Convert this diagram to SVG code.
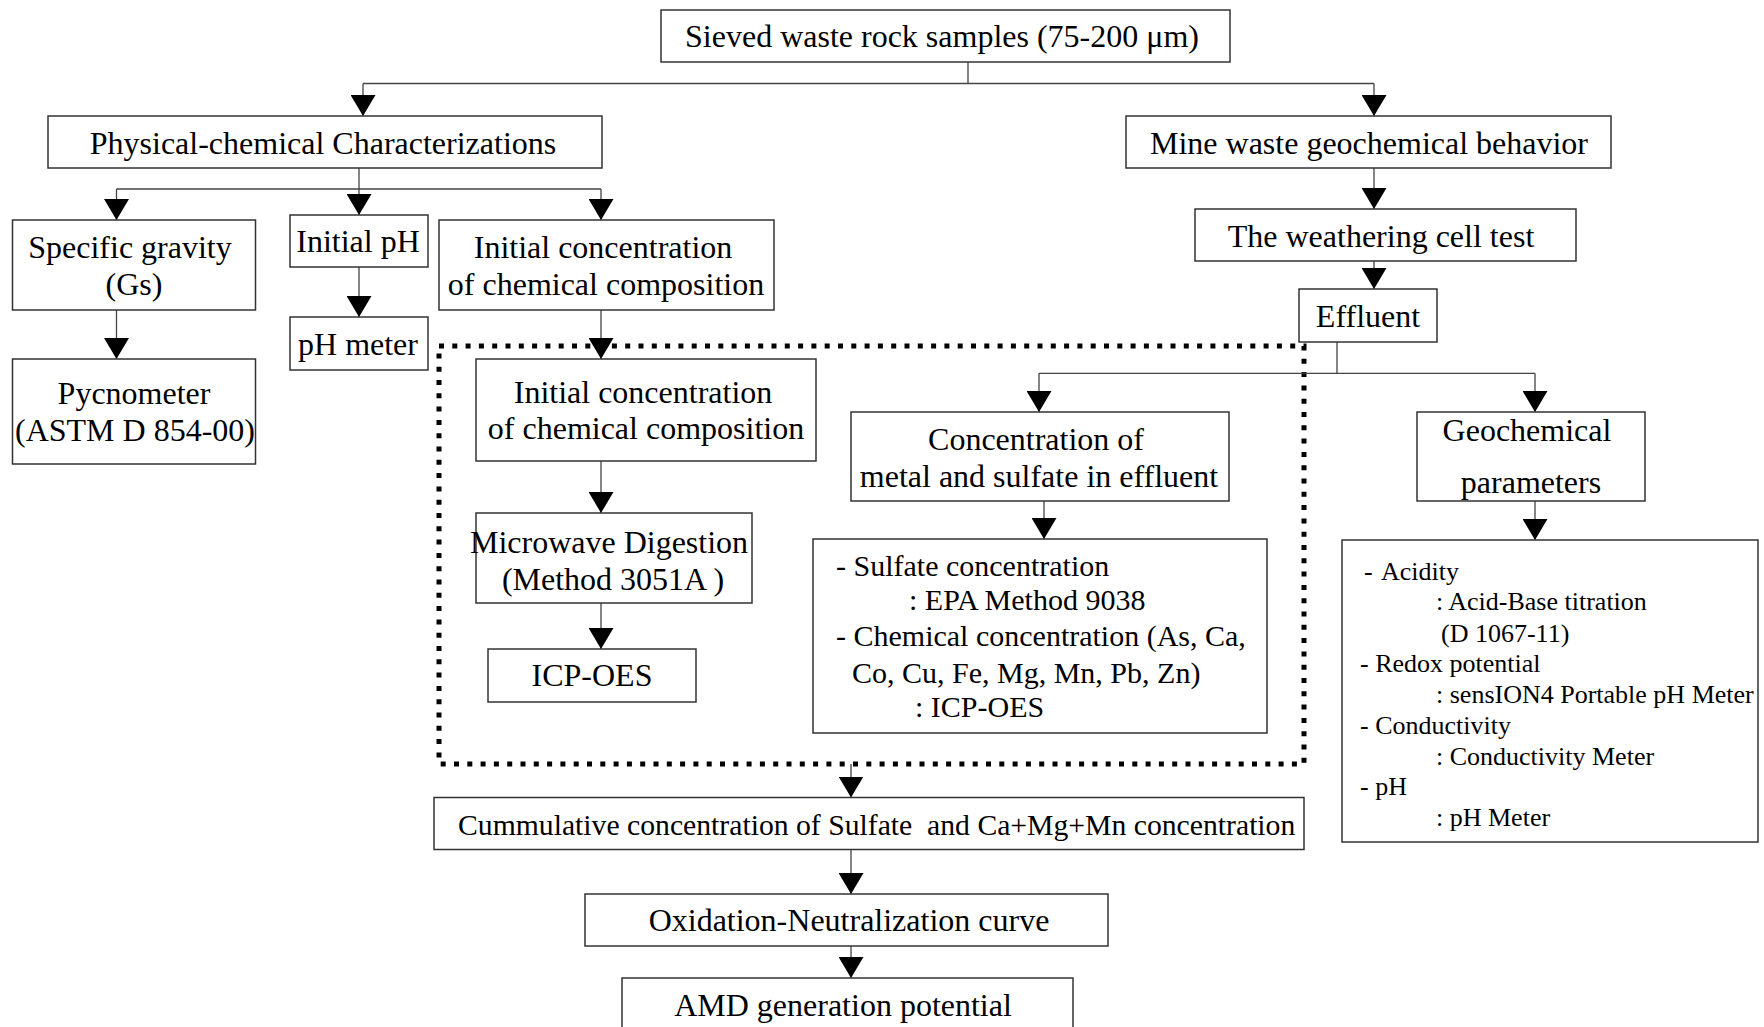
<svg xmlns="http://www.w3.org/2000/svg" width="1764" height="1027" viewBox="0 0 1764 1027">
<defs>
<style>
.box{fill:#fff;stroke:#333;stroke-width:1.5}
.t{font-family:"Liberation Serif","Times New Roman",serif;font-size:32px;fill:#000;text-anchor:middle}
.s{font-family:"Liberation Serif","Times New Roman",serif;font-size:30px;fill:#000}
.p{font-family:"Liberation Serif","Times New Roman",serif;font-size:26px;fill:#000}
.c{fill:none;stroke:#444;stroke-width:1.3}
.ca{fill:none;stroke:#444;stroke-width:1.3;marker-end:url(#arr)}
.dot{fill:none;stroke:#000;stroke-width:5;stroke-dasharray:5 8.3}
</style>
<marker id="arr" viewBox="0 0 21 25" refX="21" refY="12.5" markerWidth="21" markerHeight="25" markerUnits="userSpaceOnUse" orient="auto">
<path d="M0,0 L21,12.5 L0,25 z" fill="#000"/>
</marker>
</defs>
<rect width="1764" height="1027" fill="#fff"/>

<g id="dotted-frame"><rect class="dot" x="439" y="346" width="865" height="418"/></g>

<g id="connectors">
<path class="c" d="M968,62 V83.5 M363,83.5 H1374"/>
<path class="ca" d="M363,83.5 V116"/>
<path class="ca" d="M1374,83.5 V116"/>
<path class="c" d="M359,168 V189 M116.5,189 H601"/>
<path class="ca" d="M116.5,189 V220"/>
<path class="ca" d="M359,189 V215"/>
<path class="ca" d="M601,189 V220"/>
<path class="ca" d="M116.5,310 V359"/>
<path class="ca" d="M359,267 V317"/>
<path class="ca" d="M601,310 V359"/>
<path class="ca" d="M601,461 V513"/>
<path class="ca" d="M601,603 V649"/>
<path class="ca" d="M1374,168 V209"/>
<path class="ca" d="M1374,261 V289"/>
<path class="c" d="M1337,342 V373.3 M1039,373.3 H1535"/>
<path class="ca" d="M1039,373.3 V412"/>
<path class="ca" d="M1535,373.3 V412"/>
<path class="ca" d="M1044,501 V539"/>
<path class="ca" d="M1535,501 V540"/>
<path class="ca" d="M851,764 V797.5"/>
<path class="ca" d="M851,849.5 V894"/>
<path class="ca" d="M851,946 V978"/>
</g>

<g id="n-sieved"><rect class="box" x="661" y="10" width="569" height="52"/><text class="t" x="942" y="47">Sieved waste rock samples (75-200 μm)</text></g>
<g id="n-physchem"><rect class="box" x="48" y="116" width="554" height="52"/><text class="t" x="323" y="154">Physical-chemical Characterizations</text></g>
<g id="n-mine"><rect class="box" x="1126" y="116" width="485" height="52"/><text class="t" x="1369" y="154">Mine waste geochemical behavior</text></g>
<g id="n-gs"><rect class="box" x="12.5" y="220" width="243" height="90"/><text class="t" x="130" y="258">Specific gravity</text><text class="t" x="134" y="295">(Gs)</text></g>
<g id="n-initph"><rect class="box" x="290" y="215" width="138" height="52"/><text class="t" x="358" y="252">Initial pH</text></g>
<g id="n-initconc"><rect class="box" x="439" y="220" width="335" height="90"/><text class="t" x="603" y="258">Initial concentration</text><text class="t" x="606" y="295">of chemical composition</text></g>
<g id="n-phmeter"><rect class="box" x="290" y="317" width="138" height="53"/><text class="t" x="358" y="355">pH meter</text></g>
<g id="n-pycno"><rect class="box" x="12.5" y="359" width="243" height="105"/><text class="t" x="134" y="404">Pycnometer</text><text class="t" x="135" y="441">(ASTM D 854-00)</text></g>
<g id="n-weather"><rect class="box" x="1195" y="209" width="381" height="52"/><text class="t" x="1381" y="247">The weathering cell test</text></g>
<g id="n-effluent"><rect class="box" x="1299" y="289" width="138" height="53"/><text class="t" x="1368" y="327">Effluent</text></g>
<g id="n-initconc2"><rect class="box" x="476" y="359" width="340" height="102"/><text class="t" x="643" y="403">Initial concentration</text><text class="t" x="646" y="439">of chemical composition</text></g>
<g id="n-microwave"><rect class="box" x="476" y="513" width="276" height="90"/><text class="t" x="609" y="553">Microwave Digestion</text><text class="t" x="613" y="590">(Method 3051A )</text></g>
<g id="n-icp"><rect class="box" x="488" y="649" width="208" height="53"/><text class="t" x="592" y="686">ICP-OES</text></g>
<g id="n-concmetal"><rect class="box" x="851" y="412" width="378" height="89"/><text class="t" x="1036" y="450">Concentration of</text><text class="t" x="1039" y="487">metal and sulfate in effluent</text></g>
<g id="n-sulfate"><rect class="box" x="813" y="539" width="454" height="194"/>
<text class="s" x="836" y="576">- Sulfate concentration</text>
<text class="s" x="909" y="610">: EPA Method 9038</text>
<text class="s" x="836" y="646">- Chemical concentration (As, Ca,</text>
<text class="s" x="852" y="683">Co, Cu, Fe, Mg, Mn, Pb, Zn)</text>
<text class="s" x="915" y="717">: ICP-OES</text>
</g>
<g id="n-geochem"><rect class="box" x="1417" y="412" width="228" height="89"/><text class="t" x="1527" y="441">Geochemical</text><text class="t" x="1531" y="493">parameters</text></g>
<g id="n-params"><rect class="box" x="1342" y="540" width="416" height="302"/>
<text class="p" y="580"><tspan x="1364">-</tspan><tspan x="1381">Acidity</tspan></text>
<text class="p" x="1436" y="610">: Acid-Base titration</text>
<text class="p" x="1441" y="642">(D 1067-11)</text>
<text class="p" x="1360" y="672">- Redox potential</text>
<text class="p" x="1436" y="703">: sensION4 Portable pH Meter</text>
<text class="p" x="1360" y="734">- Conductivity</text>
<text class="p" x="1436" y="765">: Conductivity Meter</text>
<text class="p" x="1360" y="795">- pH</text>
<text class="p" x="1436" y="826">: pH Meter</text>
</g>
<g id="n-cumulative"><rect class="box" x="434" y="797.5" width="870" height="52"/><text class="s" x="458" y="835" style="font-size:29.7px;white-space:pre">Cummulative concentration of Sulfate  and Ca+Mg+Mn concentration</text></g>
<g id="n-oxid"><rect class="box" x="585" y="894" width="523" height="52"/><text class="t" x="849" y="931">Oxidation-Neutralization curve</text></g>
<g id="n-amd"><rect class="box" x="622" y="978" width="451" height="60"/><text class="t" x="843" y="1016">AMD generation potential</text></g>
</svg>
